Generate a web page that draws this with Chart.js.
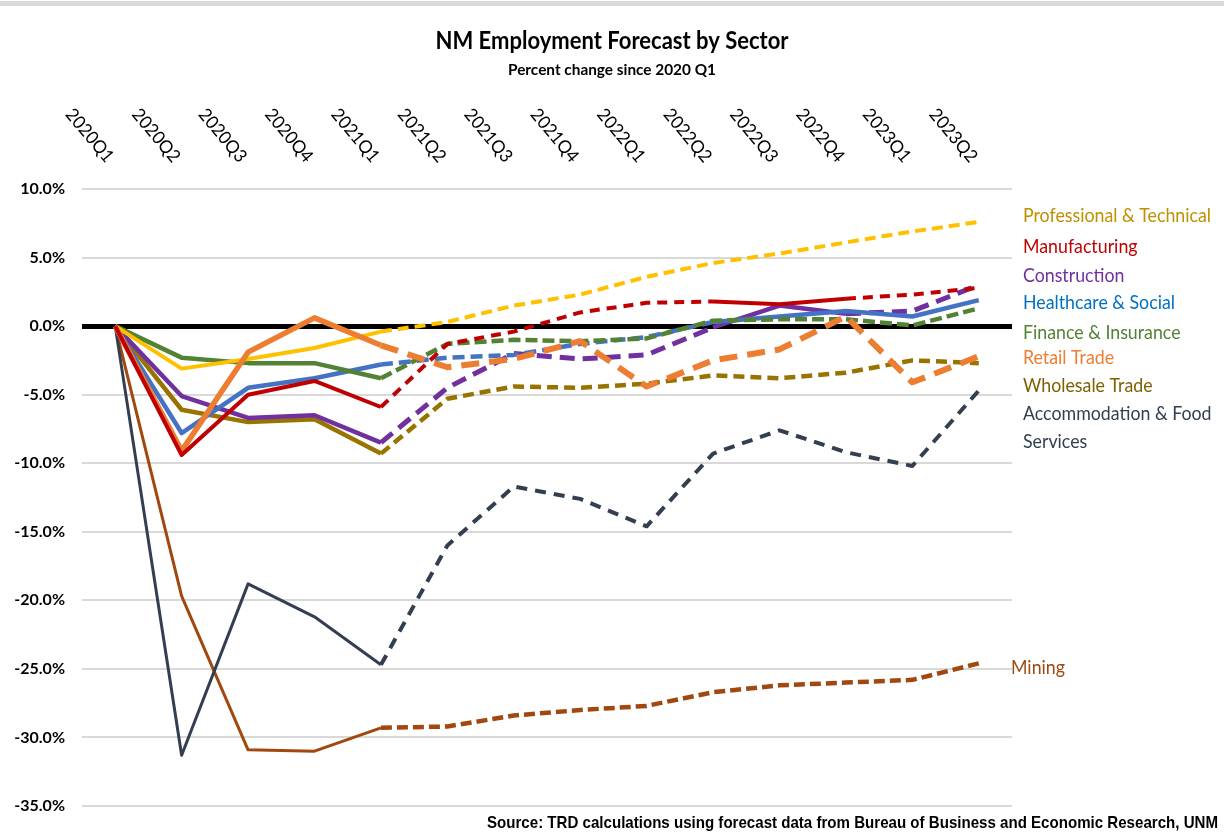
<!DOCTYPE html>
<html>
<head>
<meta charset="utf-8">
<script src="https://cdn.jsdelivr.net/npm/chart.js@4.4.1/dist/chart.umd.min.js"></script>
<style>
html,body{margin:0;padding:0;background:#fff;}
#wrap{width:1224px;height:839px;position:relative;}
</style>
</head>
<body>
<div id="wrap"><canvas id="c" width="1224" height="839"></canvas></div>
<script>
// ---------- DATA ----------
const quarters = ['2020Q1','2020Q2','2020Q3','2020Q4','2021Q1','2021Q2','2021Q3','2021Q4','2022Q1','2022Q2','2022Q3','2022Q4','2023Q1','2023Q2'];

const professional  = [0, -3.1, -2.4, -1.6, -0.4,  0.3,  1.5,  2.3,  3.6,  4.6,  5.3,  6.1,  6.9,  7.6];
const manufacturing = [0, -9.4, -5.0, -4.0, -5.9, -1.3, -0.4,  1.0,  1.7,  1.8,  1.6,  2.0,  2.3,  2.8];
const construction  = [0, -5.1, -6.7, -6.5, -8.5, -4.5, -2.0, -2.4, -2.1, -0.1,  1.5,  0.9,  1.1,  3.0];
const healthcare    = [0, -7.8, -4.5, -3.8, -2.8, -2.3, -2.1, -1.3, -0.8,  0.3,  0.7,  1.1,  0.7,  1.9];
const finance       = [0, -2.3, -2.7, -2.7, -3.8, -1.3, -1.0, -1.1, -0.9,  0.4,  0.5,  0.5,  0.05, 1.3];
const retail        = [0, -9.1, -1.9,  0.6, -1.4, -3.0, -2.4, -1.1, -4.4, -2.5, -1.7,  0.7, -4.1, -2.2];
const wholesale     = [0, -6.1, -7.0, -6.8, -9.3, -5.3, -4.4, -4.5, -4.2, -3.6, -3.8, -3.4, -2.5, -2.7];
const accommodation = [0,-31.3,-18.8,-21.2,-24.7,-16.0,-11.7,-12.6,-14.6, -9.3, -7.6, -9.2,-10.2, -4.7];
const mining        = [0,-19.7,-30.9,-31.0,-29.3,-29.2,-28.4,-28.0,-27.7,-26.7,-26.2,-26.0,-25.8,-24.6];

// quarter indices that start a segment drawn from actual (not forecast) data
const actualStartsProfessional  = [0,1,2,3];
const actualStartsManufacturing = [0,1,2,3,9,10];
const actualStartsConstruction  = [0,1,2,3,9,10];
const actualStartsHealthcare    = [0,1,2,3,9,10,11,12];
const actualStartsFinance       = [0,1,2,3];
const actualStartsRetail        = [0,1,2,3];
const actualStartsWholesale     = [0,1,2,3];
const actualStartsAccommodation = [0,1,2,3];
const actualStartsMining        = [0,1,2,3];

const yMin = -35, yMax = 10, yStep = 5;

const titleText = 'NM Employment Forecast by Sector';
const subtitleText = 'Percent change since 2020 Q1';
const sourceText = 'Source: TRD calculations using forecast data from Bureau of Business and Economic Research, UNM';

// ---------- STYLE ----------
function ds(label, data, starts, color, width, dash, solidWidth) {
  const s = new Set(starts);
  return {
    label, data,
    borderColor: color,
    borderWidth: width,
    borderDash: dash,
    pointRadius: 0,
    tension: 0,
    fill: false,
    borderJoinStyle: 'round',
    segment: {
      borderDash: c => s.has(c.p0DataIndex) ? [] : dash,
      borderWidth: c => s.has(c.p0DataIndex) ? (solidWidth || width) : width
    }
  };
}

const datasets = [
  ds('Manufacturing', manufacturing, actualStartsManufacturing, '#C00000', 4, [10, 7]),
  ds('Retail Trade', retail, actualStartsRetail, '#ED7D31', 6, [18, 10], 5.5),
  ds('Professional & Technical', professional, actualStartsProfessional, '#FFC000', 4, [11, 6]),
  ds('Finance & Insurance', finance, actualStartsFinance, '#548235', 4.5, [12, 5]),
  ds('Healthcare & Social', healthcare, actualStartsHealthcare, '#4472C4', 4.5, [12, 6]),
  ds('Construction', construction, actualStartsConstruction, '#7030A0', 5, [15, 8], 4.5),
  ds('Wholesale Trade', wholesale, actualStartsWholesale, '#997300', 4.5, [11, 6]),
  ds('Accommodation & Food Services', accommodation, actualStartsAccommodation, '#333F50', 4, [11, 8], 3),
  ds('Mining', mining, actualStartsMining, '#A0480E', 4.5, [11, 5], 3)
];

const sideLabels = [
  {lines:['Professional & Technical'], color:'#BF9000', v: 8.1},
  {lines:['Manufacturing'], color:'#C00000', v: 5.8},
  {lines:['Construction'], color:'#7030A0', v: 3.7},
  {lines:['Healthcare & Social'], color:'#0070C0', v: 1.7},
  {lines:['Finance & Insurance'], color:'#548235', v: -0.45},
  {lines:['Retail Trade'], color:'#ED7D31', v: -2.3},
  {lines:['Wholesale Trade'], color:'#7F6000', v: -4.3},
  {lines:['Accommodation & Food', 'Services'], color:'#333F50', v: -6.4},
];
const miningLabel = {text:'Mining', color:'#9C4A12', v:-24.9};

function drawScaled(ctx, text, x, y, font, color, align, sx) {
  ctx.save();
  ctx.font = font;
  ctx.fillStyle = color;
  ctx.textAlign = align;
  ctx.textBaseline = 'middle';
  ctx.translate(x, y);
  ctx.scale(sx, 1);
  ctx.fillText(text, 0, 0);
  ctx.restore();
}
function fitScale(ctx, text, font, target) {
  ctx.save(); ctx.font = font;
  const w = ctx.measureText(text).width;
  ctx.restore();
  return target / w;
}

const textPlugin = {
  id: 'texts',
  beforeDraw(chart) {
    const ctx = chart.ctx;
    ctx.save();
    ctx.fillStyle = '#fff';
    ctx.fillRect(0, 0, chart.width, chart.height);
    ctx.fillStyle = '#D9D9D9';
    ctx.fillRect(0, 1, chart.width, 5);
    ctx.restore();
  },
  afterDraw(chart) {
    const ctx = chart.ctx;
    const area = chart.chartArea;
    const xs = chart.scales.x, ys = chart.scales.y;
    const cx = chart.width / 2;

    // titles
    const tFont = 'bold 24px Lato';
    drawScaled(ctx, titleText, cx, 41, tFont, '#000', 'center', fitScale(ctx, titleText, tFont, 353));
    const sFont = 'bold 15px Lato';
    drawScaled(ctx, subtitleText, cx, 70, sFont, '#000', 'center', fitScale(ctx, subtitleText, sFont, 208));

    // rotated category labels along the top
    const xFont = '18px Lato';
    const xsx = fitScale(ctx, '2020Q1', xFont, 64);
    quarters.forEach((q, i) => {
      const px = xs.getPixelForValue(i);
      ctx.save();
      ctx.font = xFont;
      ctx.fillStyle = '#000';
      ctx.textAlign = 'right';
      ctx.textBaseline = 'middle';
      ctx.translate(px - 5, 160);
      ctx.rotate(50 * Math.PI / 180);
      ctx.scale(xsx, 1);
      ctx.fillText(q, 0, 0);
      ctx.restore();
    });

    // side labels
    const lFont = '20px Lato';
    const lsx = fitScale(ctx, 'Professional & Technical', lFont, 188);
    sideLabels.forEach(l => {
      const y0 = ys.getPixelForValue(l.v);
      l.lines.forEach((line, k) => {
        drawScaled(ctx, line, area.right + 11, y0 + k * 28, lFont, l.color, 'left', lsx);
      });
    });
    drawScaled(ctx, miningLabel.text, area.right - 1, ys.getPixelForValue(miningLabel.v), lFont, miningLabel.color, 'left', lsx);

    // source
    const srcFont = 'bold 17px "Liberation Sans"';
    drawScaled(ctx, sourceText, 1218, 823, srcFont, '#000', 'right', fitScale(ctx, sourceText, srcFont, 731));
  }
};

new Chart(document.getElementById('c'), {
  type: 'line',
  data: { labels: quarters, datasets },
  options: {
    responsive: false,
    animation: false,
    layout: { padding: { top: 189, right: 212, bottom: 33, left: 0 } },
    plugins: { legend: { display: false }, tooltip: { enabled: false }, title: { display: false } },
    scales: {
      x: { type: 'category', display: false, offset: true },
      y: {
        min: yMin, max: yMax,
        ticks: {
          stepSize: yStep,
          callback: v => v.toFixed(1) + '%',
          font: { family: 'Lato', size: 16, weight: 'bold' },
          color: '#000',
          padding: 17
        },
        grid: {
          drawTicks: false,
          color: c => c.tick && c.tick.value === 0 ? '#000000' : '#D9D9D9',
          lineWidth: c => c.tick && c.tick.value === 0 ? 5 : 2
        },
        border: { display: false },
        afterFit(s) { s.width = 82; }
      }
    }
  },
  plugins: [textPlugin]
});
</script>
</body>
</html>
